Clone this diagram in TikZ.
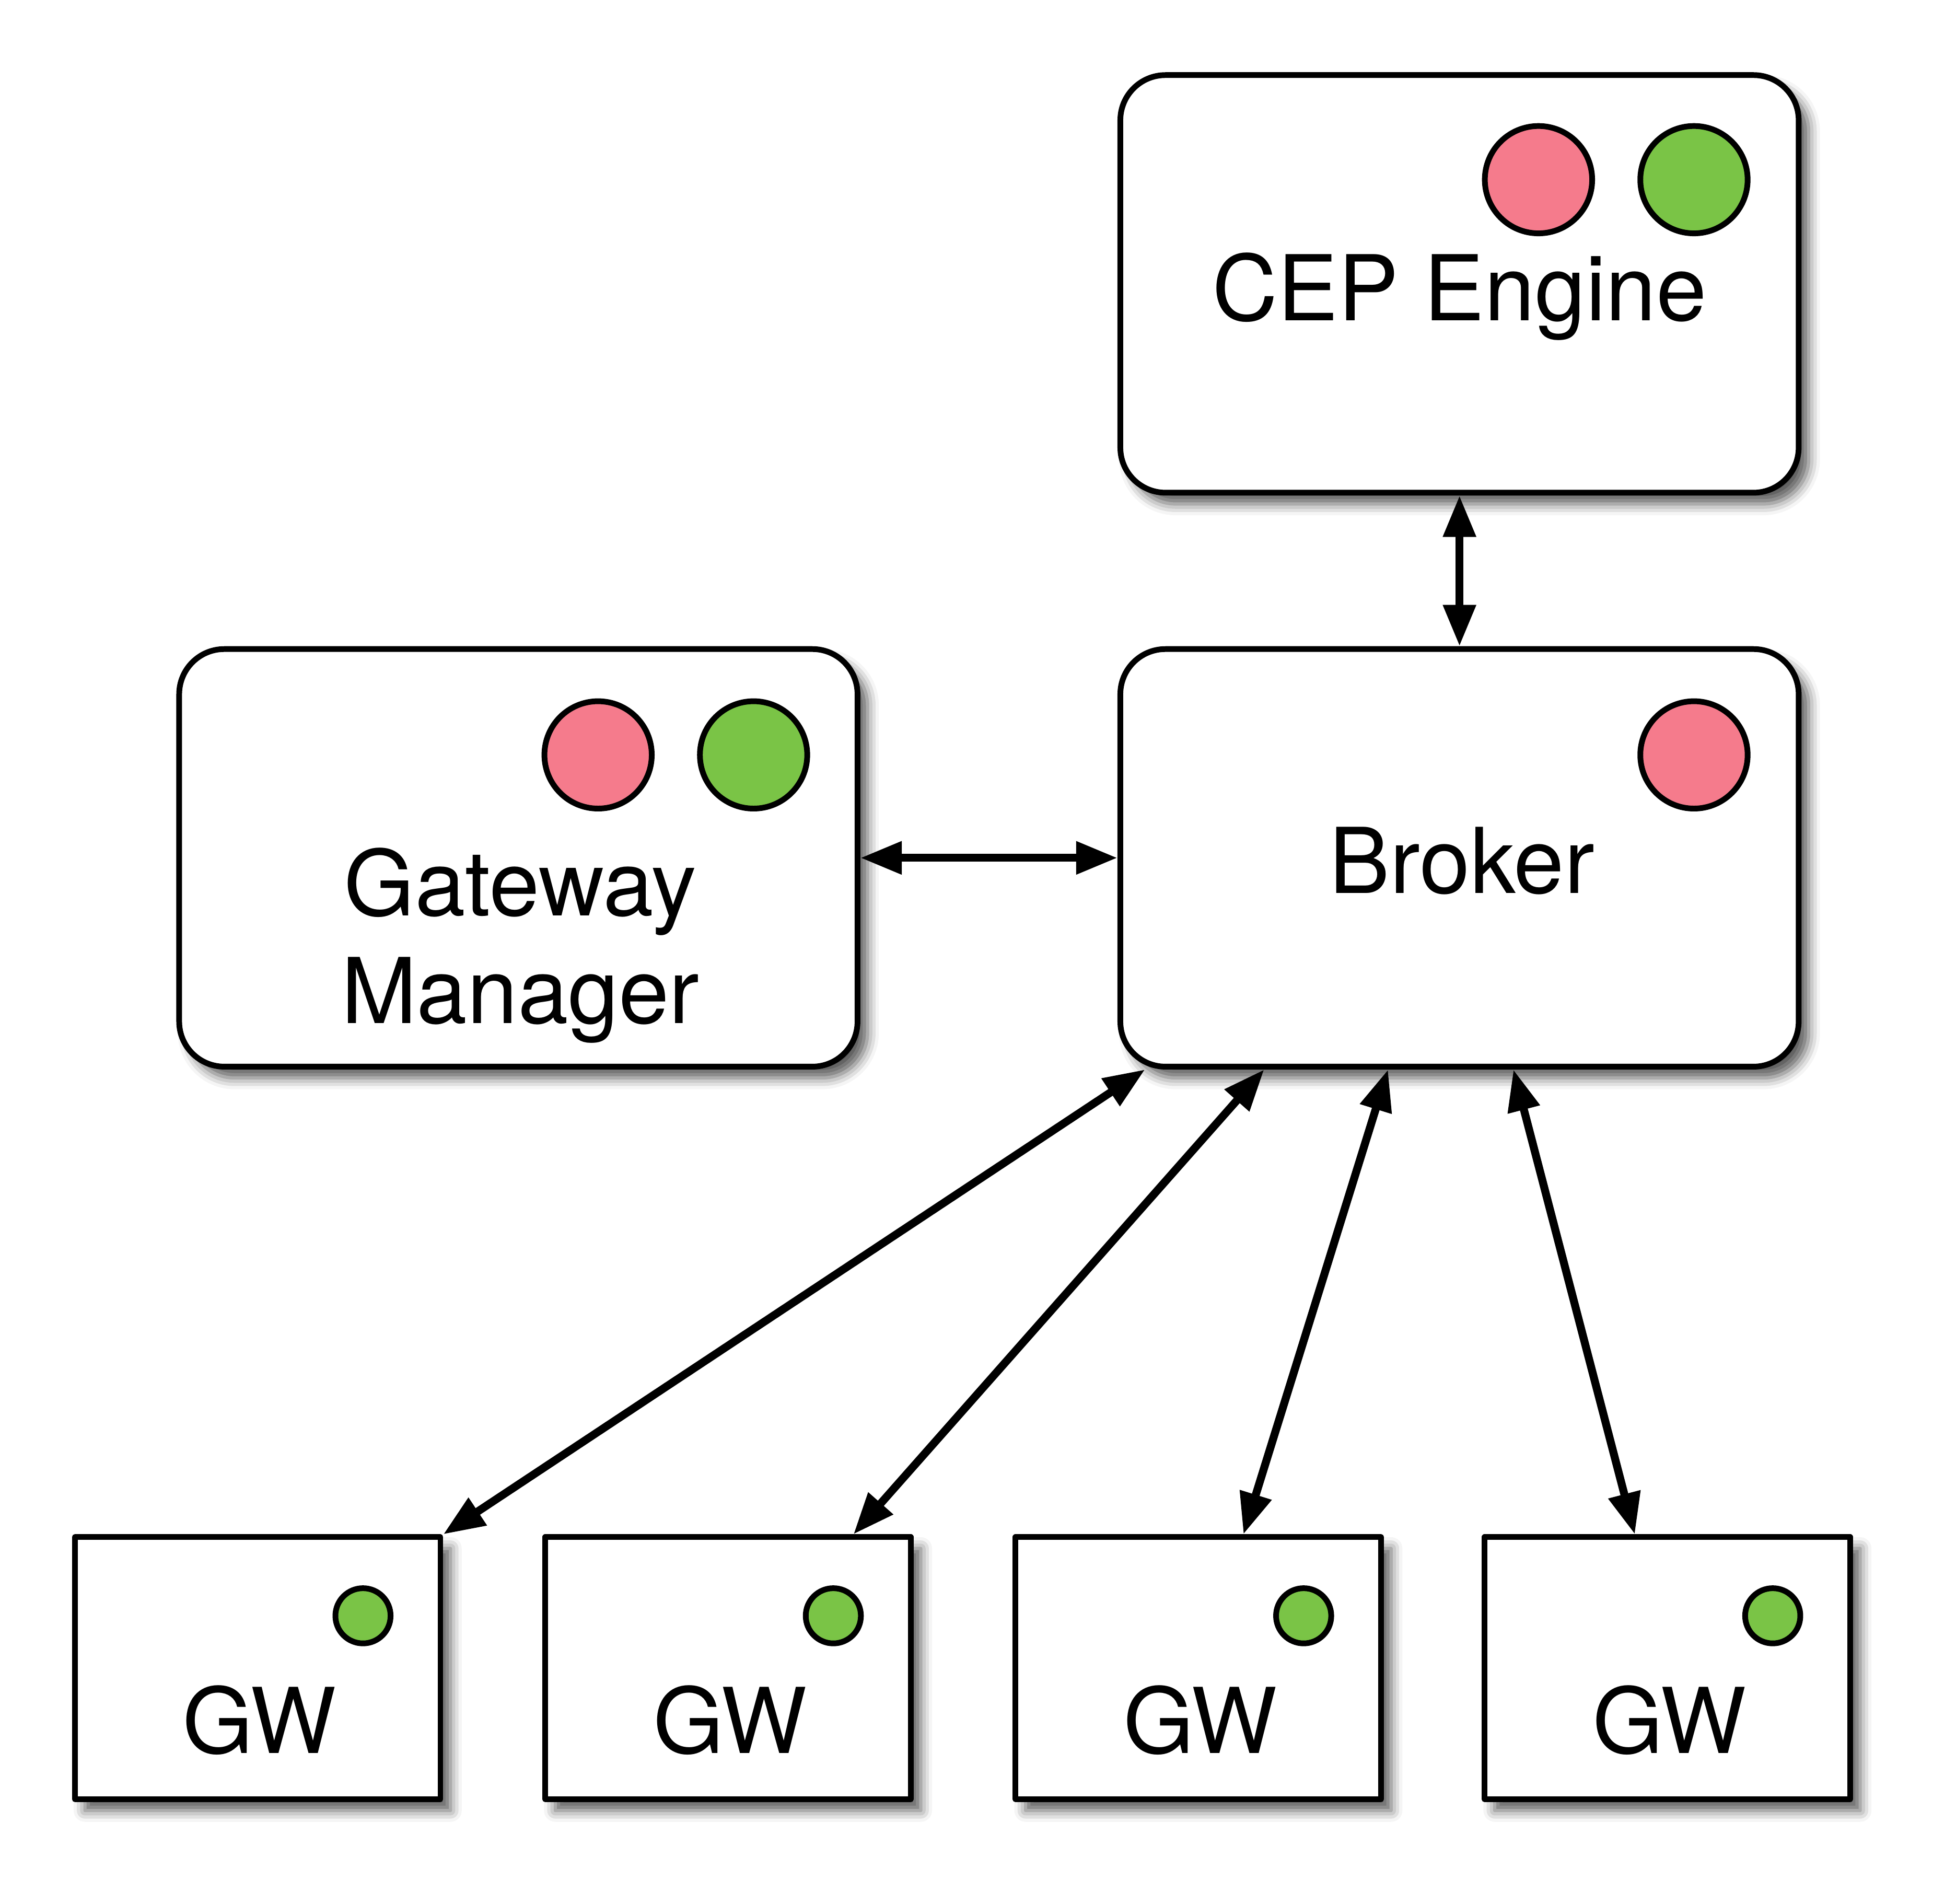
\documentclass[tikz,border=0pt]{standalone}
\usepackage{fontspec}
\setmainfont{TeX Gyre Heros}
\usetikzlibrary{arrows.meta,shadows.blur}
\definecolor{ledred}{RGB}{245,123,140}
\definecolor{ledgreen}{RGB}{122,196,70}
\begin{document}
\begin{tikzpicture}[
        box/.style={draw, line width=1.3pt, fill=white, rounded corners=3.6mm,
            minimum width=5.41cm, minimum height=3.33cm,
            blur shadow={shadow xshift=0.8mm, shadow yshift=-0.9mm, shadow blur radius=0.9mm, shadow opacity=65}},
        gwbox/.style={box, sharp corners, line join=round, minimum width=2.915cm, minimum height=2.09cm},
        lbl/.style={font=\fontsize{20.6}{24.4}\selectfont, anchor=base, align=center, inner sep=0pt},
        led/.style={draw, line width=1.3pt},
        link/.style={line width=1.8pt, {Triangle[length=3.3mm,width=2.5mm]}-{Triangle[length=3.3mm,width=2.5mm]}}
    ]
    \useasboundingbox (0,0) rectangle (15.6,15.18);

    \node[box] (cep) at (11.64,12.916) {};
    \node[box] (broker) at (11.64,8.339) {};
    \node[box] (gm) at (4.134,8.339) {};

    \node[lbl] (ceplbl) at (11.64,12.623) {CEP Engine};
    \node[lbl] (brokerlbl) at (11.66,8.056) {Broker};
    \node[lbl] (gmlbl) at (4.15,7.02) {Gateway\\Manager};

    \filldraw[led, fill=ledred] (12.27,13.747) circle (0.428);
    \filldraw[led, fill=ledgreen] (13.51,13.747) circle (0.428);
    \filldraw[led, fill=ledred] (13.51,9.16) circle (0.428);
    \filldraw[led, fill=ledred] (4.77,9.16) circle (0.428);
    \filldraw[led, fill=ledgreen] (6.01,9.16) circle (0.428);

    \foreach \i/\x in {1/2.055, 2/5.806, 3/9.557, 4/13.298} {
        \node[gwbox] (gw\i) at (\x,1.877) {};
        \node[lbl] (gwlbl\i) at (\x+0.015,1.20) {GW};
        \filldraw[led, fill=ledgreen] (\x+0.84,2.295) circle (0.22);
    }

    \draw[link] (cep.south) -- (broker.north);
    \draw[link] (gm.east) -- (broker.west);
    \draw[link] ([xshift=2.2mm]broker.south west) -- (gw1.north east);
    \draw[link] ([xshift=11.7mm]broker.south west) -- ([xshift=-4.8mm]gw2.north east);
    \draw[link] ([xshift=-5.7mm]broker.south) -- ([xshift=3.6mm]gw3.north);
    \draw[link] ([xshift=4.3mm]broker.south) -- ([xshift=-2.6mm]gw4.north);
\end{tikzpicture}
\end{document}
